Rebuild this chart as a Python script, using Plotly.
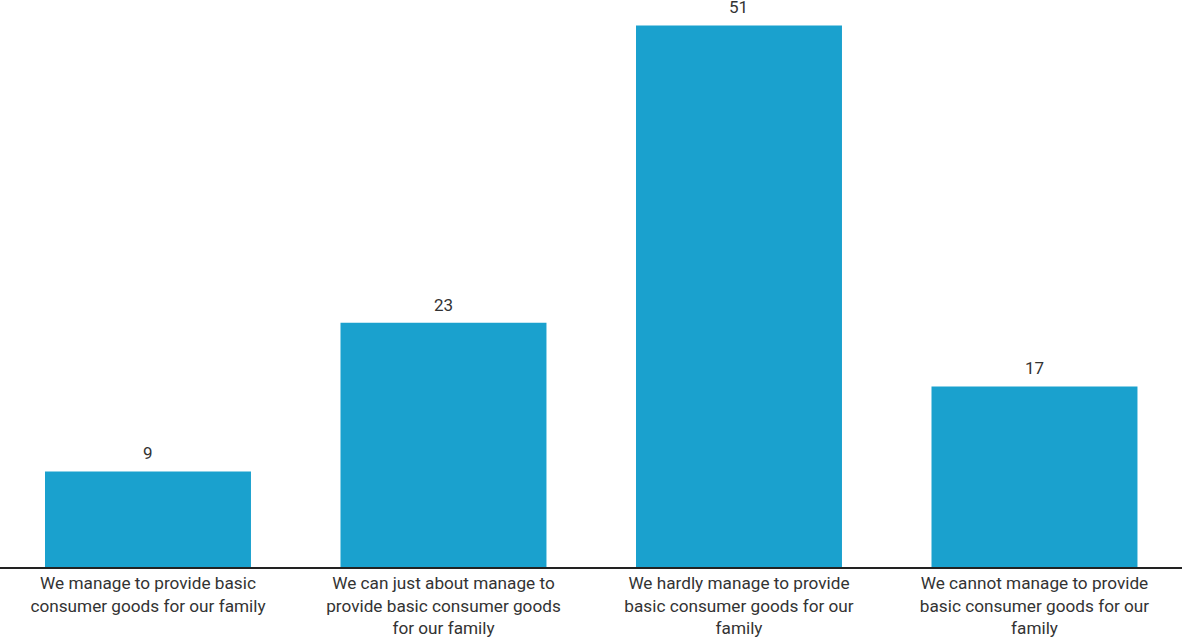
import plotly.graph_objects as go

categories = [
    "We manage to provide basic<br>consumer goods for our family",
    "We can just about manage to<br>provide basic consumer goods<br>for our family",
    "We hardly manage to provide<br>basic consumer goods for our<br>family",
    "We cannot manage to provide<br>basic consumer goods for our<br>family",
]
values = [9, 23, 51, 17]

fig = go.Figure(go.Bar(
    x=list(range(len(categories))), y=values,
    marker=dict(color="#1aa1ce", line=dict(width=0)),
    width=0.697,
    cliponaxis=False,
))
for i, v in enumerate(values):
    fig.add_annotation(x=i, y=v, text=str(v), showarrow=False,
                       yanchor="bottom", yshift=6,
                       font=dict(family="Roboto", size=17, color="#333333"))

fig.update_layout(
    width=1182, height=638,
    margin=dict(l=0, r=0, t=0, b=71),
    paper_bgcolor="white", plot_bgcolor="white",
    showlegend=False,
    font=dict(family="Roboto", size=17.2, color="#333333"),
    xaxis=dict(showline=True, linecolor="#222222", linewidth=1.5, ticks="",
               tickmode="array", tickvals=list(range(len(categories))),
               ticktext=categories, range=[-0.5008, 3.4992],
               ticklabelstandoff=0, automargin=False,
               tickfont=dict(family="Roboto", size=17.2, color="#333333"),
               showgrid=False, zeroline=False),
    yaxis=dict(visible=False, range=[0, 53.39], showgrid=False, zeroline=False,
               automargin=False),
)
fig.write_html("out.html",
               config={"displayModeBar": False},
               post_script="document.body.style.margin='0';document.body.style.overflow='hidden';window.scrollTo(0,0);")
